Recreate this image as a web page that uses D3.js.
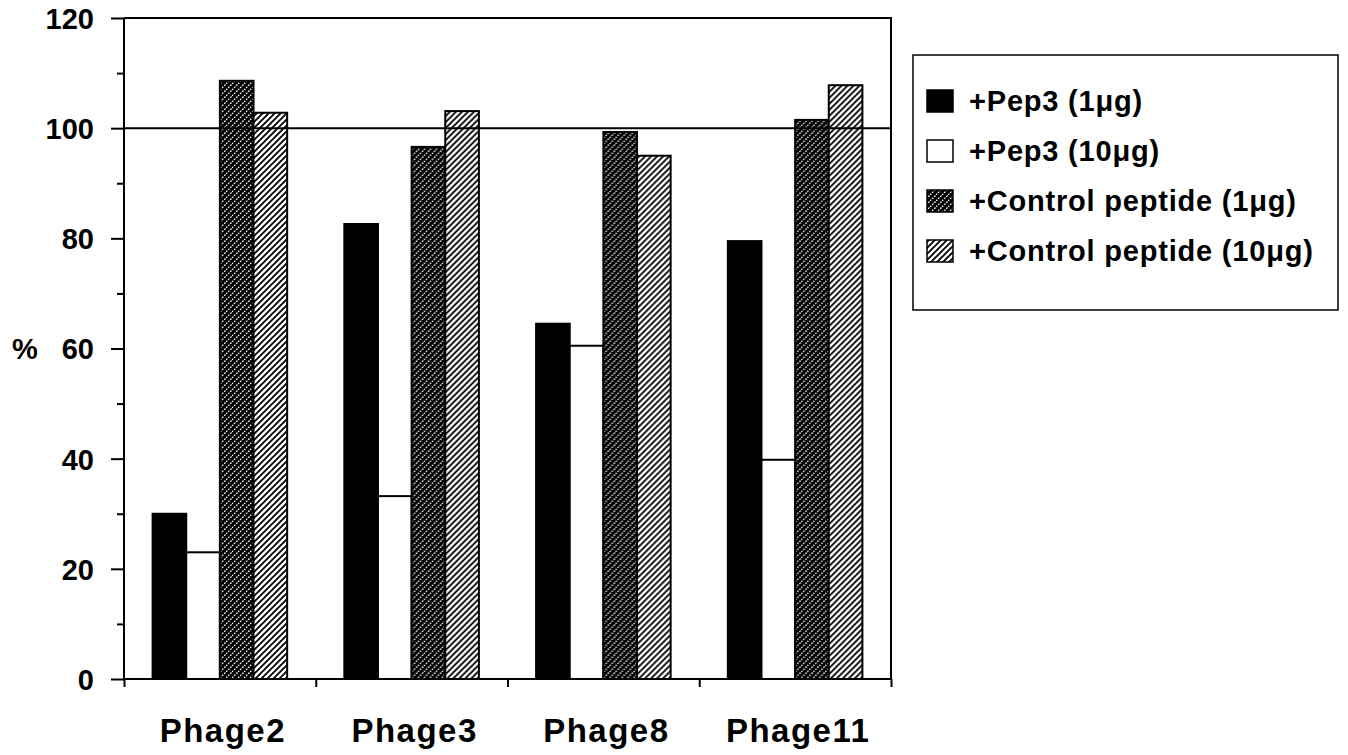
<!DOCTYPE html>
<html>
<head>
<meta charset="utf-8">
<script src="https://cdn.jsdelivr.net/npm/d3@7"></script>
<style>
  html, body { margin: 0; padding: 0; background: #fff; }
  svg { display: block; }
  text { font-family: "Liberation Sans", Arial, Helvetica, sans-serif; font-weight: bold; fill: #000; }
</style>
</head>
<body>
<svg id="chart" width="1348" height="755"></svg>
<script>
// ---- data ----
const categories = ["Phage2", "Phage3", "Phage8", "Phage11"];
const seriesNames = ["+Pep3 (1\u03BCg)", "+Pep3 (10\u03BCg)", "+Control peptide (1\u03BCg)", "+Control peptide (10\u03BCg)"];
const pep3_1ug = [30, 82.6, 64.5, 79.5];
const pep3_10ug = [23, 33.2, 60.5, 39.8];
const control_1ug = [108.6, 96.6, 99.3, 101.5];
const control_10ug = [102.8, 103.1, 95, 107.8];
const yTickValues = [0, 20, 40, 60, 80, 100, 120];
const yMinorTickValues = [10, 30, 50, 70, 90, 110];
const referenceValue = 100;
const yLabel = "%";

const seriesValues = [pep3_1ug, pep3_10ug, control_1ug, control_10ug];
const seriesKeys = ["s0", "s1", "s2", "s3"];
const table = categories.map((c, i) => {
  const row = { category: c };
  seriesKeys.forEach((k, j) => row[k] = seriesValues[j][i]);
  return row;
});

// ---- layout ----
const svg = d3.select("#chart");
const plot = { left: 124, right: 891, top: 18, bottom: 679 };

const defs = svg.append("defs");
// dark hatch: black with white dotted diagonals
const pd = defs.append("pattern").attr("id", "darkHatch").attr("patternUnits", "userSpaceOnUse")
  .attr("width", 6).attr("height", 6);
pd.append("rect").attr("width", 6).attr("height", 6).attr("fill", "#000");
pd.append("path").attr("d", "M0,6 L6,0").attr("stroke", "#fff").attr("stroke-width", 1.2)
  .attr("stroke-dasharray", "1.8,1.2");
// light hatch: white with black diagonals
const pl = defs.append("pattern").attr("id", "lightHatch").attr("patternUnits", "userSpaceOnUse")
  .attr("width", 6).attr("height", 6);
pl.append("rect").attr("width", 6).attr("height", 6).attr("fill", "#fff");
pl.append("path").attr("d", "M-1,7 L7,-1 M-1,1 L1,-1 M5,7 L7,5").attr("stroke", "#000").attr("stroke-width", 1.8);

const fills = ["#000", "#fff", "url(#darkHatch)", "url(#lightHatch)"];

const x0 = d3.scaleBand().domain(categories).range([plot.left, plot.right]).paddingInner(0).paddingOuter(0);
const x1 = d3.scaleBand().domain(seriesKeys).range([0, x0.bandwidth()]).paddingInner(0).paddingOuter(0.85);
const y = d3.scaleLinear().domain([0, 120]).range([plot.bottom, plot.top]);

// bars
const groups = svg.append("g").selectAll("g").data(table).join("g")
  .attr("transform", d => `translate(${x0(d.category)},0)`);
groups.selectAll("rect").data(d => seriesKeys.map((k, j) => ({ key: k, j, value: d[k] })))
  .join("rect")
  .attr("x", d => x1(d.key))
  .attr("y", d => y(d.value))
  .attr("width", x1.bandwidth())
  .attr("height", d => y(0) - y(d.value))
  .attr("fill", d => fills[d.j])
  .attr("stroke", "#000")
  .attr("stroke-width", 2);

// y axis
const yAxis = d3.axisLeft(y).tickValues(yTickValues).tickSize(13).tickPadding(17).tickFormat(d3.format("d"));
const gy = svg.append("g").attr("transform", `translate(${plot.left},0)`).call(yAxis);
gy.select(".domain").attr("stroke-width", 2).attr("d", `M0,${plot.top}V${plot.bottom}`);
gy.selectAll(".tick line").attr("stroke-width", 2);
gy.selectAll(".tick text").style("font-size", "29px").attr("dy", "0.36em");
const yMinor = d3.axisLeft(y).tickValues(yMinorTickValues).tickSize(7).tickFormat("");
const gym = svg.append("g").attr("transform", `translate(${plot.left},0)`).call(yMinor);
gym.select(".domain").remove();
gym.selectAll(".tick line").attr("stroke-width", 2);

// x axis (ticks at band boundaries)
const xBoundaries = categories.map(c => x0(c)).concat([plot.right]);
const xTickScale = d3.scaleLinear().domain([plot.left, plot.right]).range([plot.left, plot.right]);
const xAxis = d3.axisBottom(xTickScale).tickValues(xBoundaries).tickSize(8).tickFormat("");
const gx = svg.append("g").attr("transform", `translate(0,${plot.bottom})`).call(xAxis);
gx.select(".domain").attr("stroke-width", 2).attr("d", `M${plot.left},0H${plot.right}`);
gx.selectAll(".tick line").attr("stroke-width", 2);

// category labels
svg.append("g").selectAll("text").data(categories).join("text")
  .attr("x", d => x0(d) + x0.bandwidth() / 2 + 3)
  .attr("y", 742)
  .attr("text-anchor", "middle")
  .style("font-size", "33px")
  .style("letter-spacing", "1.5px")
  .text(d => d);

// frame top & right
svg.append("path").attr("d", `M${plot.left},${plot.top}H${plot.right}V${plot.bottom}`)
  .attr("fill", "none").attr("stroke", "#000").attr("stroke-width", 2);

// reference line at 100
svg.append("line")
  .attr("x1", plot.left).attr("x2", plot.right)
  .attr("y1", y(referenceValue)).attr("y2", y(referenceValue))
  .attr("stroke", "#000").attr("stroke-width", 2);

// y label
svg.append("text").attr("x", 12).attr("y", y(60)).attr("dy", "0.36em")
  .style("font-size", "29px").text(yLabel);

// legend
const lg = svg.append("g");
lg.append("rect").attr("x", 913).attr("y", 55).attr("width", 425).attr("height", 255)
  .attr("fill", "#fff").attr("stroke", "#000").attr("stroke-width", 1.5);
const legendY = d3.scalePoint().domain(seriesKeys).range([101, 251]);
const items = lg.selectAll("g.item").data(seriesKeys).join("g").attr("class", "item")
  .attr("transform", d => `translate(0,${legendY(d)})`);
items.append("rect").attr("x", 927).attr("y", -11).attr("width", 26).attr("height", 22)
  .attr("fill", (d, i) => fills[i]).attr("stroke", "#000").attr("stroke-width", 1.5);
items.append("text").attr("x", 969).attr("y", 0).attr("dy", "0.36em")
  .style("font-size", "29px").style("letter-spacing", "0.8px").text((d, i) => seriesNames[i]);
</script>
</body>
</html>
